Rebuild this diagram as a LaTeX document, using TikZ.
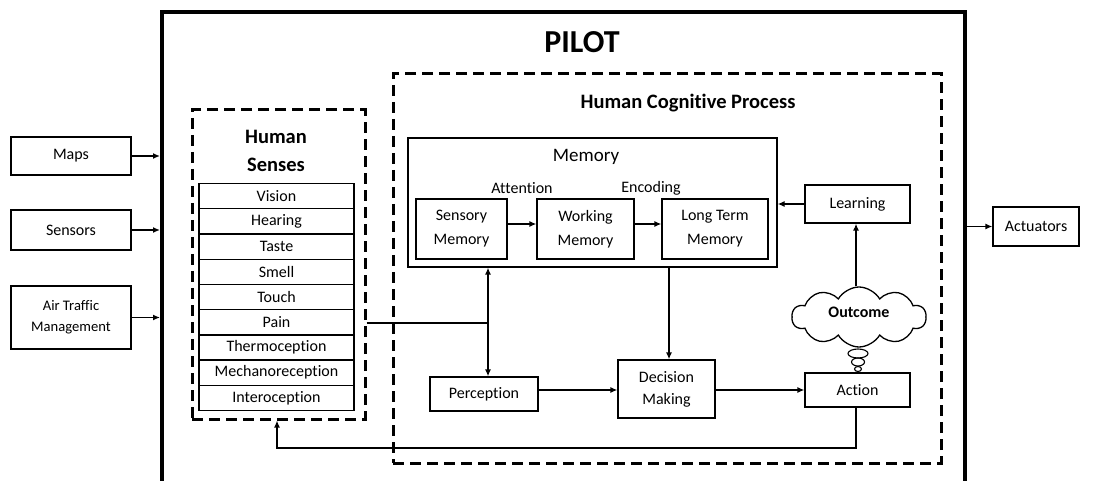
\documentclass[tikz,border=0pt]{standalone}
\usepackage{fontspec}
\setmainfont{Carlito}[Ligatures={NoCommon,NoContextual}]
\usetikzlibrary{arrows.meta,shapes.symbols,shapes.geometric}

\newcommand{\fsz}[2]{\fontsize{#1}{#2}\selectfont}

\begin{document}
\begin{tikzpicture}[x=1pt,y=-1pt,
  box/.style={draw, line width=1.3pt, align=center, inner sep=0pt, font=\fsz{16}{24}},
  dashbox/.style={draw, line width=3pt, dash pattern=on 11pt off 6pt},
  lbl/.style={inner sep=0pt, align=center},
  arr/.style={-{Latex[length=7pt,width=6pt]}, line width=1.3pt},
  dbl/.style={{Latex[length=7pt,width=6pt]}-{Latex[length=7pt,width=6pt]}, line width=1.3pt},
  conn/.style={line width=1.3pt},
  bubble/.style={draw, ellipse, inner sep=0pt, line width=1.1pt}]
\useasboundingbox (0,0) rectangle (1093,481);

% outer pilot frame (open at the bottom)
\draw[line width=4pt] (162,490) -- (162,12) -- (965,12) -- (965,490);
\coordinate (pilotL) at (160,0);
\coordinate (pilotR) at (967,0);
\node[lbl, font=\bfseries\fsz{32}{36}] (pilot) at (582,42) {PILOT};

% external inputs
\node[box, minimum width=120pt, minimum height=38pt] (maps) at (71,156) {Maps};
\node[box, minimum width=120pt, minimum height=40pt] (sensors) at (71,230) {Sensors};
\node[box, minimum width=120pt, minimum height=63pt, font=\fsz{14.6}{21}] (atm) at (71,317.5) {Air Traffic\\Management};
\node[box, minimum width=86pt, minimum height=39pt] (act) at (1036,226.5) {Actuators};

\draw[arr] (maps.east) -- (maps.east -| pilotL);
\draw[arr] (sensors.east) -- (sensors.east -| pilotL);
\draw[arr] (atm.east) -- (atm.east -| pilotL);
\draw[arr] (act.west -| pilotR) -- (act.west);

% human senses
\node[dashbox, minimum width=173pt, minimum height=309pt] (senses) at (278.5,264.5) {};
\node[lbl, font=\bfseries\fsz{20.5}{28}] (sensestitle) at (276,151) {Human\\Senses};
\foreach \s [count=\i] in {Vision,Hearing,Taste,Smell,Touch,Pain,Thermoception,Mechanoreception,Interoception}{
  \node[box, anchor=north, minimum width=155pt, minimum height=25.2pt] (s\i) at (276.5,{183+25.2*(\i-1)}) {\s};
}

% cognitive process
\node[dashbox, minimum width=548pt, minimum height=389pt] (cog) at (667,268.5) {};
\node[lbl, font=\bfseries\fsz{20.5}{24}] (cogtitle) at (688,103) {Human Cognitive Process};

\node[draw, line width=1.3pt, minimum width=369pt, minimum height=129pt] (memory) at (592.5,202.5) {};
\node[lbl, font=\fsz{19}{22}] (memtitle) at (586,157) {Memory};
\node[lbl, font=\fsz{16}{20}] (attn) at (522,188) {Attention};
\node[lbl, font=\fsz{16}{20}] (enc) at (651,188) {Encoding};

\node[box, minimum width=91pt, minimum height=60pt] (sensory) at (461.5,229) {Sensory\\Memory};
\node[box, minimum width=97pt, minimum height=60pt] (working) at (585.5,229) {Working\\Memory};
\node[box, minimum width=106pt, minimum height=60pt] (longterm) at (715,229) {Long Term\\Memory};
\draw[arr] ([yshift=5pt]sensory.east) -- ([yshift=5pt]working.west);
\draw[arr] ([yshift=5pt]working.east) -- ([yshift=5pt]longterm.west);

\node[box, minimum width=105pt, minimum height=38pt] (learning) at (857.5,204) {Learning};
\node[box, minimum width=105pt, minimum height=34pt] (action) at (857.5,390) {Action};
\node[box, minimum width=108pt, minimum height=34pt] (perception) at (484,394) {Perception};
\node[box, minimum width=97pt, minimum height=58pt, font=\fsz{16}{22}] (decision) at (666.5,389) {Decision\\Making};

% outcome thought cloud
\node[draw, cloud, cloud puffs=10, cloud puff arc=120, cloud ignores aspect,
      minimum width=134pt, minimum height=60pt, inner sep=0pt, line width=1.3pt] (outcome) at (859,317) {};
\node[lbl, font=\bfseries\fsz{16}{20}] (outcometext) at (859,312) {Outcome};
\node[bubble, minimum width=20pt, minimum height=9pt] (b1) at (858,353.5) {};
\node[bubble, minimum width=13pt, minimum height=8pt] (b2) at (858,362) {};
\node[bubble, minimum width=7pt, minimum height=5pt] (b3) at (858,369) {};

% connectors
\coordinate (lx) at (856,0);
\draw[arr] (learning.west) -- (learning.west -| memory.east);
\draw[arr] (outcome.north -| lx) -- (learning.south -| lx);
\coordinate (dx) at (669,0);
\draw[arr] (memory.south -| dx) -- (decision.north -| dx);
\draw[arr] ([yshift=4pt]perception.east) -- ([yshift=4pt]perception.east -| decision.west);
\draw[arr] (action.west -| decision.east) -- (action.west);

\coordinate (junc) at (488,323);
\draw[dbl] (junc |- memory.south) -- (junc |- perception.north);
\draw[conn] (senses.east |- junc) -- (junc);

\coordinate (fb) at (856,448);
\draw[arr] (action.south -| fb) -- (fb) -| ([xshift=-1.5pt]senses.south);
\end{tikzpicture}
\end{document}
